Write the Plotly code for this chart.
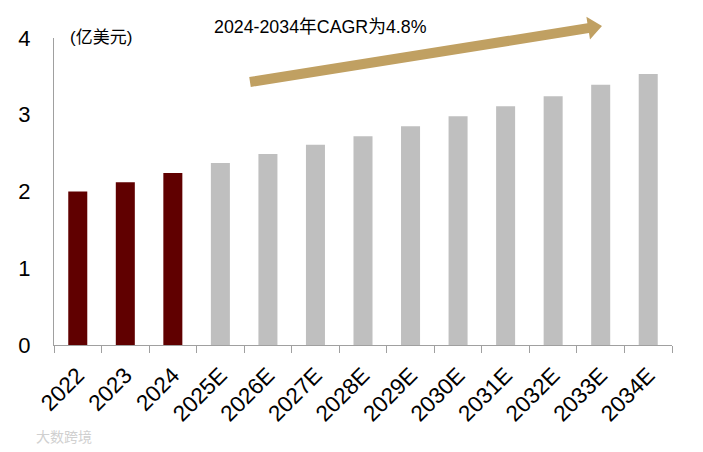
import plotly.graph_objects as go

# ---- data ----
categories = ["2022", "2023", "2024", "2025E", "2026E", "2027E", "2028E",
              "2029E", "2030E", "2031E", "2032E", "2033E", "2034E"]
values = [2.00, 2.12, 2.24, 2.37, 2.49, 2.61, 2.72, 2.85, 2.98, 3.11, 3.24, 3.39, 3.53]
y_ticks = [0, 1, 2, 3, 4]
unit_label = "(亿美元)"
cagr_label = "2024-2034年CAGR为4.8%"
watermark = "大数跨境"

ACTUAL = "#600000"
FORECAST = "#BFBFBF"
ARROW = "#C0A062"
FONT = "Liberation Sans, Arial, Noto Sans CJK SC, sans-serif"

# target plot area in screen pixels: x 54..672, y 38..345
OFF = 8  # page body margin
W, H = 703, 452
ML, MT = 54 - OFF, 38 - OFF
PW, PH = 618, 307
MR, MB = W - ML - PW, H - MT - PH


def px2paper(px, py):
    # px, py are screen pixels
    return (px - OFF - ML) / PW, (MT + PH - (py - OFF)) / PH


colors = [FORECAST if c.endswith("E") else ACTUAL for c in categories]

fig = go.Figure(go.Bar(x=categories, y=values, marker=dict(color=colors, line=dict(width=0)),
                       hoverinfo="x+y"))

# arrow polygon (screen pixels -> paper coords)
arrow_px = [(249.2, 77.1), (587.4, 23.3), (586.4, 16.8), (602, 26),
            (590.0, 39.6), (589.0, 33.1), (250.8, 86.9)]
pts = [px2paper(x, y) for x, y in arrow_px]
path = "M " + " L ".join(f"{x:.4f},{y:.4f}" for x, y in pts) + " Z"
fig.add_shape(type="path", path=path, xref="paper", yref="paper",
              fillcolor=ARROW, line=dict(width=0), layer="above")

ux, uy = px2paper(68, 37)
cx, cy = px2paper(212, 27)
wx, wy = px2paper(34, 437)
fig.add_annotation(text=unit_label, x=ux, y=uy, xref="paper", yref="paper",
                   xanchor="left", yanchor="middle", showarrow=False,
                   font=dict(size=17, color="#000", family=FONT))
fig.add_annotation(text=cagr_label, x=cx, y=cy, xref="paper", yref="paper",
                   xanchor="left", yanchor="middle", showarrow=False,
                   font=dict(size=17.8, color="#000", family=FONT))
fig.add_annotation(text=watermark, x=wx, y=wy, xref="paper", yref="paper",
                   xanchor="left", yanchor="middle", showarrow=False,
                   font=dict(size=14, color="#D0D0D0", family=FONT))

fig.update_layout(
    width=W, height=H,
    margin=dict(l=ML, r=MR, t=MT, b=MB, autoexpand=False),
    plot_bgcolor="white", paper_bgcolor="white",
    bargap=0.6, showlegend=False,
    font=dict(family=FONT, color="#000"),
)
fig.update_xaxes(type="category", showline=True, linecolor="#A0A0A0", linewidth=1.3,
                 ticks="outside", tickson="boundaries", ticklen=7, tickcolor="#A0A0A0",
                 tickwidth=1.3, tickangle=-45, tickfont=dict(size=22.5, family=FONT),
                 ticklabelstandoff=7, showgrid=False, zeroline=False)
fig.update_yaxes(range=[0, 4], tickvals=y_ticks, showline=True, linecolor="#A0A0A0",
                 linewidth=1.3, ticks="", showgrid=False, zeroline=False,
                 tickfont=dict(size=22, family=FONT), ticklabelstandoff=18)

fig.write_html("out.html")
